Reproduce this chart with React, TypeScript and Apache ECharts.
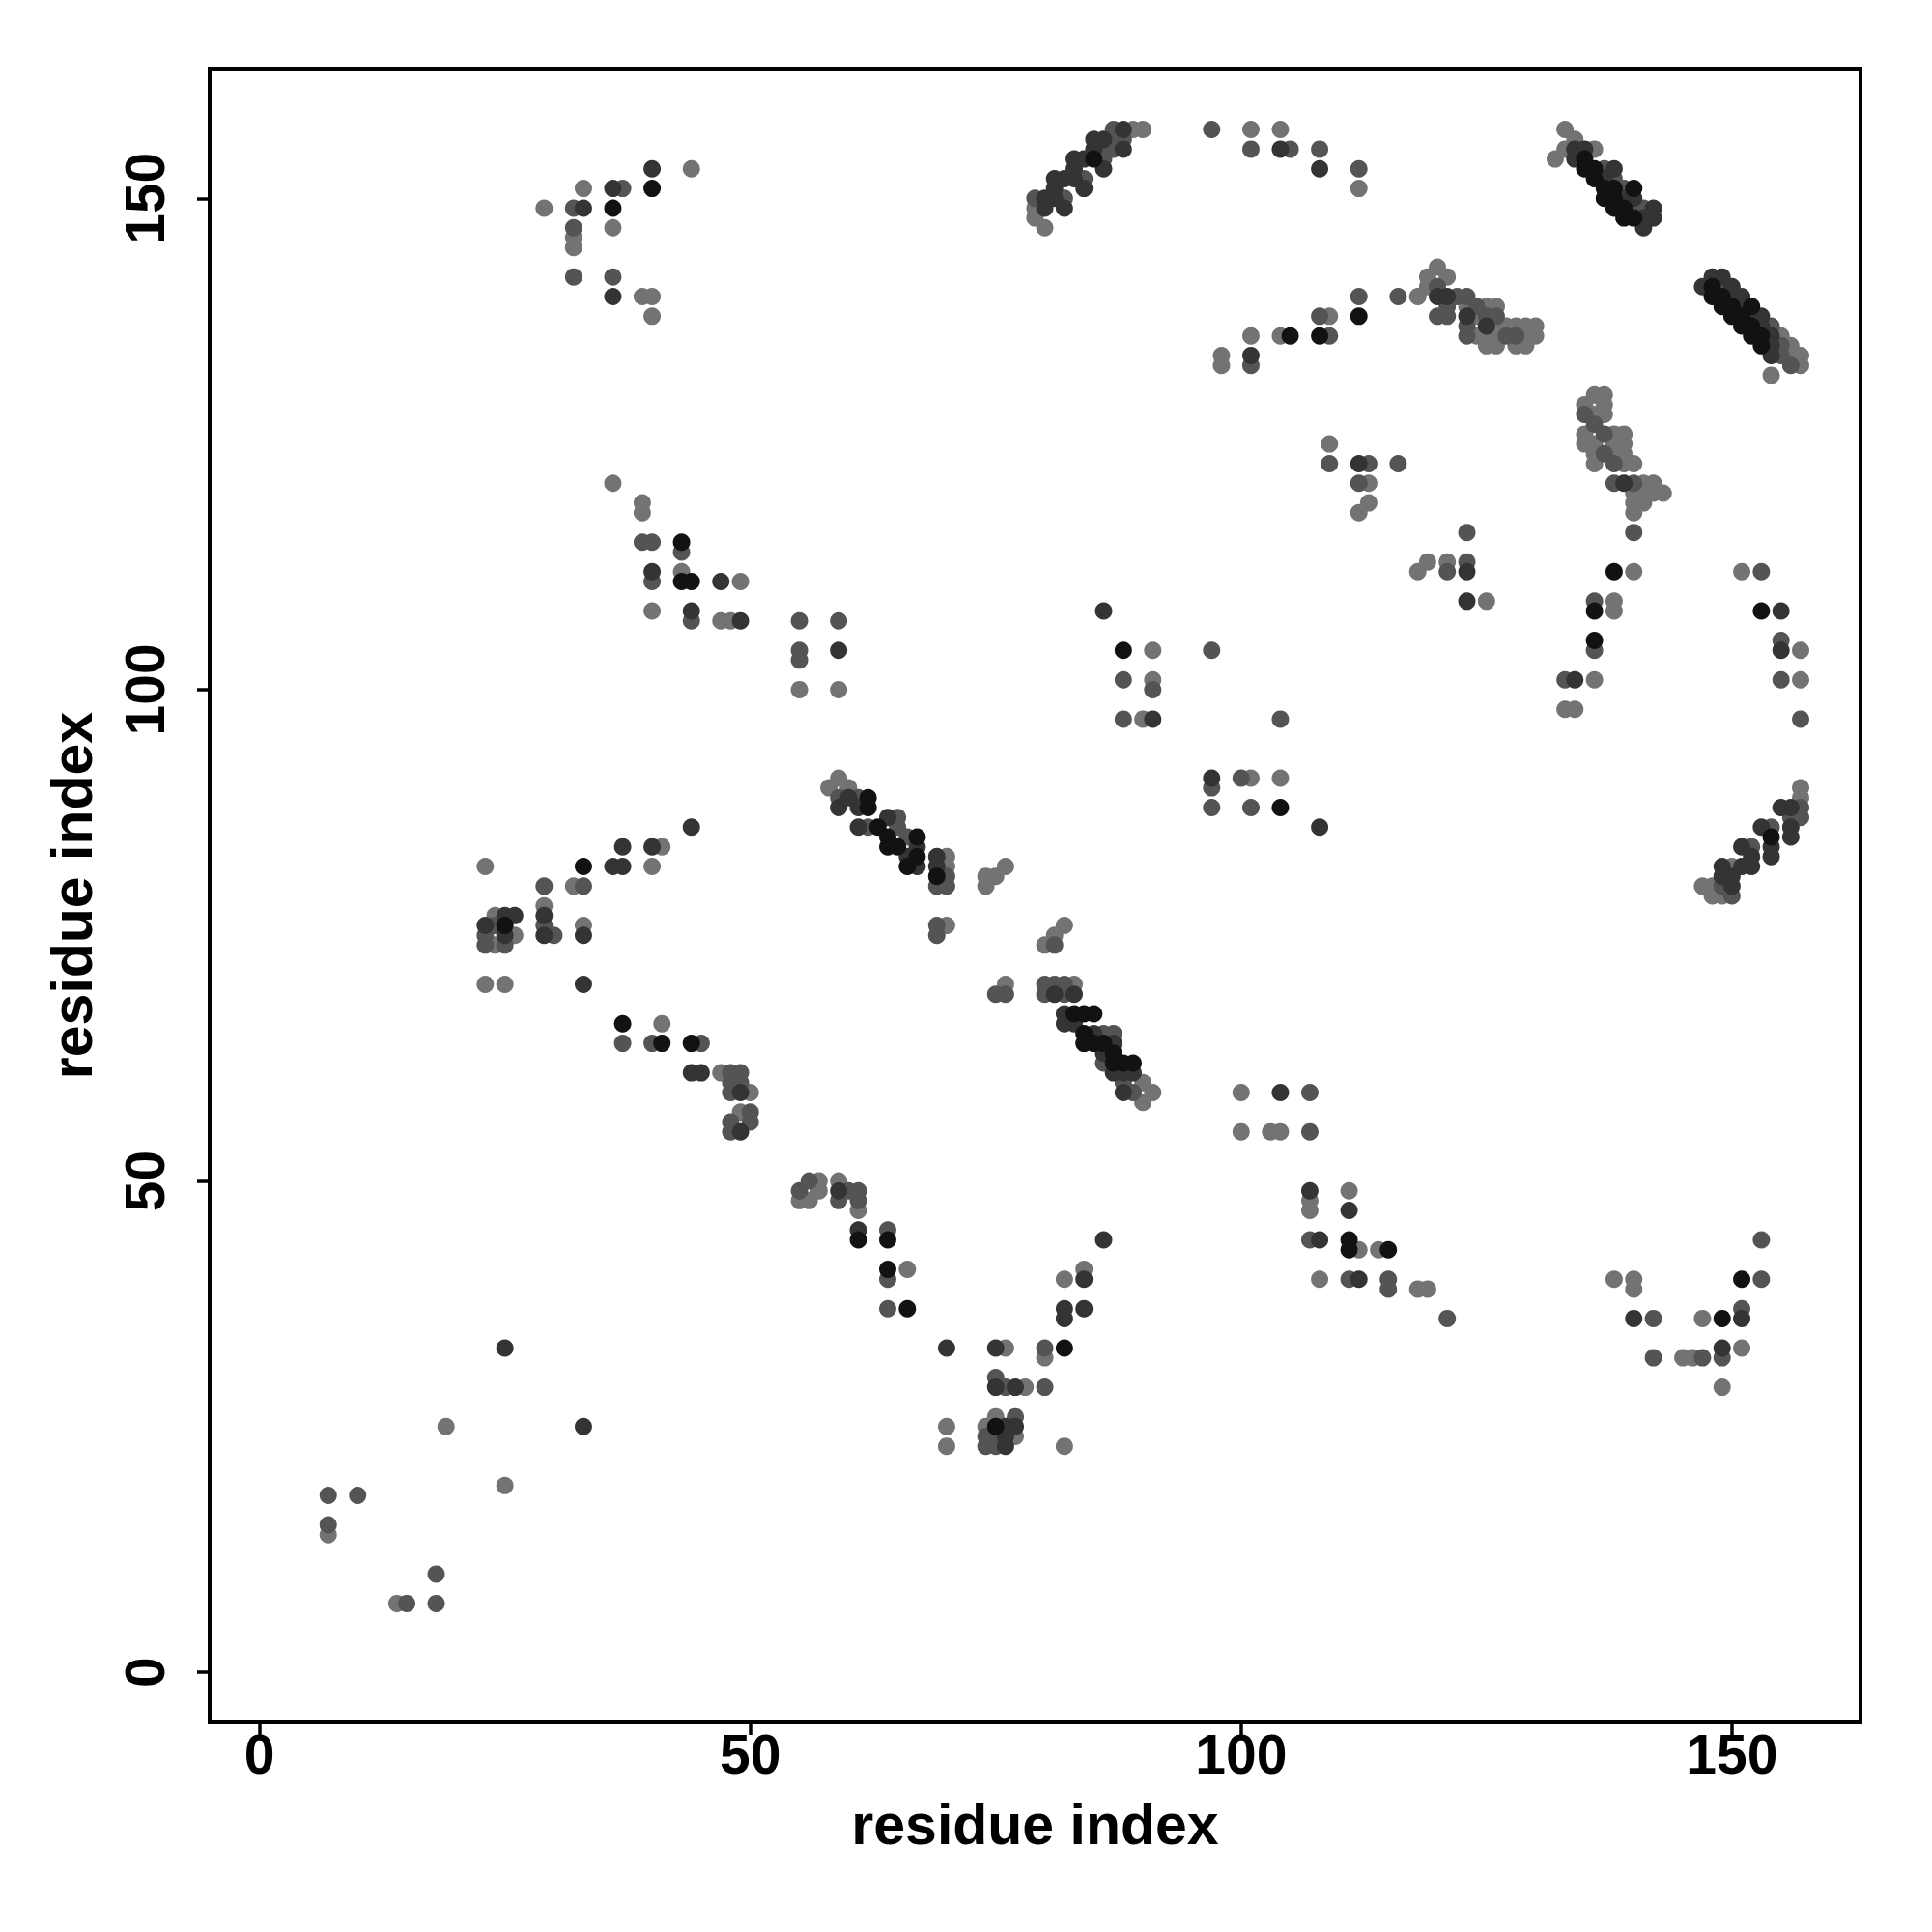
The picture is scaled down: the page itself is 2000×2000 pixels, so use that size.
import React, { useEffect, useRef } from "react";
import * as echarts from "echarts";

// Axis ticks
const xTicks = [0, 50, 100, 150];
const yTicks = [0, 50, 100, 150];

// Contacts (residue i, residue j), grouped by grey shade
const lightPoints: number[][] = [
  [33,151],[29,149],[32,146],[32,145],[36,147],[36,121],[44,153],[39,140],[40,140],[40,138],
  [39,119],[39,118],[43,112],[49,111],[40,108],[47,107],[48,107],[55,100],[59,100],
  [41,84],[40,82],[59,91],[58,90],[60,90],[70,83],[70,82],[74,81],[75,81],[76,82],[74,80],
  [70,76],[76,70],[41,66],[47,61],[50,59],[49,57],
  [23,82],[32,80],[29,78],[33,76],[24,77],[26,75],[24,74],[23,70],[25,70],
  [19,25],[25,19],[7,14],[14,7],
  [57,50],[55,48],[56,48],[57,49],[59,50],[61,47],[66,41],[76,33],[78,29],[70,25],[70,23],
  [75,26],[74,25],[77,24],
  [82,40],[84,41],[80,32],[82,23],[107,48],[107,47],[111,49],[112,43],[114,43],[108,40],[118,39],[119,39],
  [151,33],[138,40],[140,40],[140,39],[147,36],[145,32],[146,32],[149,29],
  [91,104],[91,101],[90,97],[101,91],[104,91],[82,76],[81,75],[80,74],[83,70],[90,60],[91,59],[90,58],
  [100,59],[100,55],[103,55],[104,55],
  [89,157],[90,157],[79,149],[79,148],[80,147],
  [101,157],[104,157],[112,151],[118,140],[109,138],[101,136],[104,136],[98,134],[98,133],
  [109,125],[113,121],[113,119],[112,118],[119,113],[118,112],
  [133,157],[134,156],[133,155],[132,154],[136,155],
  [119,142],[120,143],[121,142],[119,141],[123,139],[125,139],[126,139],[124,138],[126,137],
  [124,136],[125,136],[126,136],[125,135],[126,135],[127,137],[128,137],[129,137],[130,137],
  [129,136],[130,136],[128,135],[129,135],
  [155,136],[156,135],[156,134],[157,134],[157,133],[154,132],
  [136,130],[137,130],[135,129],[137,129],[136,128],[137,128],[135,126],[138,126],[139,126],
  [135,125],[136,125],[138,125],[139,125],[136,124],[138,124],[139,124],[136,123],[139,123],
  [140,123],[141,121],[142,121],[140,120],[141,120],[142,120],[143,120],[140,119],[141,119],[140,118],
  [121,113],[125,109],[140,112],[138,109],[138,108],[151,112],
  [136,101],[133,98],[134,98],[157,104],[157,101],
  [157,90],[157,89],[150,82],[147,80],[148,80],[148,79],[149,79]
];

const mediumPoints: number[][] = [
  [37,151],[32,149],[32,147],[32,142],[36,142],[39,115],[40,115],[43,114],[40,111],[44,107],
  [55,107],[59,107],[55,104],[55,103],
  [59,89],[61,89],[62,86],[65,87],[65,86],[66,85],[70,81],[69,80],[70,80],
  [69,76],[69,75],[75,69],[76,69],[40,64],[45,64],[48,61],[49,61],[48,60],[49,60],[48,59],
  [50,57],[48,56],[50,56],[48,55],
  [29,80],[33,80],[29,76],[30,75],[24,76],[23,75],[23,74],[25,74],[37,64],
  [7,18],[10,18],[7,15],[18,10],[15,7],[18,7],
  [55,49],[56,50],[59,48],[60,49],[61,49],[61,48],[64,45],[64,40],[64,37],
  [75,30],[76,29],[77,26],[74,24],[75,24],[74,23],[75,23],
  [80,33],[80,29],[107,44],[111,40],[115,40],[115,39],[121,36],
  [153,44],[153,40],[142,36],[151,37],[142,32],[147,32],[149,32],
  [97,104],[88,101],[91,100],[88,97],[104,97],[97,90],[100,91],[97,88],[101,88],
  [81,74],[80,70],[81,70],[82,70],[80,69],[82,69],[86,65],[87,65],[86,62],[88,60],[89,59],
  [107,59],[107,55],
  [87,157],[87,156],[88,156],[86,155],[86,154],[84,152],[79,150],[82,150],[87,155],
  [97,157],[101,155],[105,155],[108,155],[112,153],[112,140],[108,138],[109,136],[101,133],
  [116,140],[109,123],[113,123],[116,123],[112,121],
  [137,153],[138,152],[139,151],[140,149],[141,149],
  [120,141],[121,139],[121,138],[120,138],[122,140],[123,140],[124,139],[125,138],[126,138],
  [123,137],[123,136],[127,136],[128,136],
  [149,141],[154,137],[155,135],[155,134],[156,133],
  [135,128],[136,127],[137,126],[137,124],[138,123],[138,121],[140,121],[140,116],
  [123,116],[121,112],[123,113],[153,112],[136,109],
  [136,104],[133,101],[155,105],[155,101],[157,97],
  [157,88],[157,87],[156,87],[154,86],[152,84],[149,80],[150,79]
];

const darkPoints: number[][] = [
  [36,151],[33,149],[36,140],[40,153],[40,112],[47,111],[44,108],[49,107],[59,104],
  [44,86],[40,84],[60,89],[59,88],[61,88],[61,86],[64,87],[66,83],[67,84],[67,82],[69,83],[69,82],
  [44,61],[45,61],[49,59],[49,55],
  [37,84],[36,82],[37,82],[29,77],[29,75],[33,75],[25,77],[26,77],[23,76],[25,75],[33,70],
  [25,33],[33,25],
  [59,49],[61,45],[70,33],[75,33],[75,29],[77,29],[76,25],[77,25],[76,24],[76,23],
  [86,44],[84,40],[82,37],[82,36],[84,37],[107,49],[111,47],[108,44],[112,40],
  [140,36],[151,36],[149,33],
  [86,108],[91,97],[97,91],[108,86],[81,69],[83,69],
  [82,67],[82,66],[83,66],[85,65],[87,64],[86,63],[87,61],[88,61],[89,61],[88,59],[104,59],
  [88,157],[85,156],[86,156],[88,155],[86,153],[83,154],[84,154],[81,152],[82,152],[83,152],
  [84,151],[80,150],[81,150],[82,149],[80,149],[81,151],[83,153],[85,155],
  [104,155],[108,153],[101,134],[112,123],
  [134,155],[135,155],[134,154],[138,153],[137,152],[139,150],[140,150],[142,149],[141,148],
  [142,148],[141,147],
  [120,140],[121,140],[123,138],[125,137],
  [147,141],[148,142],[149,142],[150,141],[150,140],[151,140],[151,139],[152,138],[153,138],
  [153,137],[154,136],[154,135],[154,134],
  [139,121],[123,112],[123,109],[155,108],
  [134,101],[155,104],
  [155,88],[156,88],[156,86],[156,85],[153,86],[154,84],[154,83],[151,84],[152,83],[152,82],
  [151,82],[149,82],[149,81],[150,81],[150,80]
];

const blackPoints: number[][] = [
  [36,149],[40,151],[43,115],[43,111],[44,111],
  [62,89],[62,88],[63,86],[64,85],[67,85],[64,84],[65,84],[67,83],[66,82],[69,81],
  [41,64],[44,64],[33,82],[25,76],[37,66],
  [61,44],[64,44],[64,41],[66,37],[75,25],[82,33],
  [111,44],[111,43],[115,43],[151,40],[149,36],
  [88,104],[104,88],
  [83,67],[84,67],[85,67],[84,65],[84,64],[85,64],[86,64],[87,63],[88,62],[89,62],[87,62],
  [85,154],[112,138],[108,136],[105,136],
  [135,154],[135,153],[136,153],[136,152],[137,151],[138,151],[140,151],[137,150],[138,150],
  [138,149],[139,149],[139,148],[140,148],
  [148,141],[148,140],[149,140],[149,139],[150,139],[152,139],[150,138],[151,138],[151,137],
  [152,137],[152,136],[153,136],[153,135],
  [138,112],[136,108],[153,108],[136,105],
  [154,85]
];

const shades = [
  { name: "light", data: lightPoints, color: "#737373" },
  { name: "medium", data: mediumPoints, color: "#545454" },
  { name: "dark", data: darkPoints, color: "#343434" },
  { name: "black", data: blackPoints, color: "#121212" },
];

const FONT = "'Liberation Sans', Arial, Helvetica, sans-serif";

export default function App() {
  const ref = useRef<HTMLDivElement>(null);

  useEffect(() => {
    document.body.style.margin = "0";
    if (!ref.current) return;
    const chart = echarts.init(ref.current, null, { renderer: "svg" });
    const labelStyle = {
      fontSize: 57,
      fontWeight: "bold" as const,
      color: "#000",
      fontFamily: FONT,
    };
    const nameStyle = {
      fontSize: 59,
      fontWeight: "bold" as const,
      color: "#000",
      fontFamily: FONT,
    };
    chart.setOption({
      animation: false,
      backgroundColor: "#fff",
      grid: {
        left: 217,
        top: 71,
        right: 74,
        bottom: 217,
        show: true,
        borderColor: "#000",
        borderWidth: 4,
        backgroundColor: "transparent",
      },
      xAxis: {
        type: "value",
        min: -5.08,
        max: 163.1,
        splitLine: { show: false },
        axisLine: { show: false, onZero: false },
        axisTick: {
          show: true,
          customValues: xTicks,
          length: 13,
          lineStyle: { color: "#000", width: 3.5 },
        },
        axisLabel: { customValues: xTicks, margin: 4, ...labelStyle },
        name: "residue index",
        nameLocation: "middle",
        nameGap: 76,
        nameTextStyle: nameStyle,
      },
      yAxis: {
        type: "value",
        min: -5.1,
        max: 163.2,
        splitLine: { show: false },
        axisLine: { show: false, onZero: false },
        axisTick: {
          show: true,
          customValues: yTicks,
          length: 13,
          lineStyle: { color: "#000", width: 3.5 },
        },
        axisLabel: { customValues: yTicks, rotate: 90, margin: 39, ...labelStyle },
        name: "residue index",
        nameLocation: "middle",
        nameRotate: 90,
        nameGap: 113,
        nameTextStyle: nameStyle,
      },
      series: shades.map((s, i) => ({
        type: "scatter",
        name: s.name,
        data: s.data,
        symbol: "circle",
        symbolSize: 18,
        z: 2 + i,
        itemStyle: { color: s.color, opacity: 1 },
        emphasis: { disabled: true },
      })),
    });
    return () => chart.dispose();
  }, []);

  return <div ref={ref} style={{ width: 2000, height: 2000 }} />;
}
